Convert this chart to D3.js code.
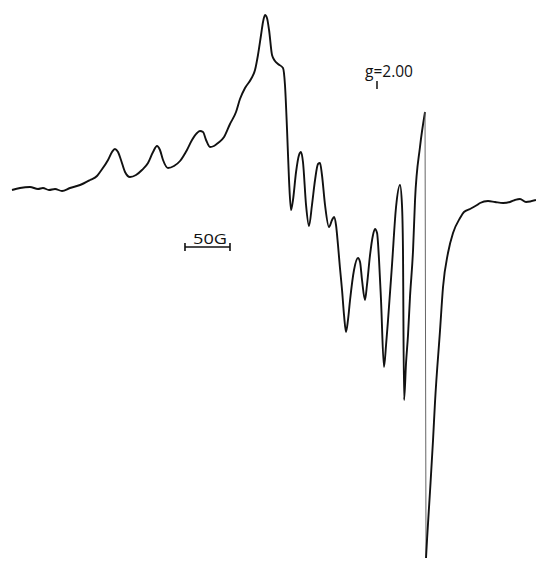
<!DOCTYPE html>
<html>
<head>
<meta charset="utf-8">
<script src="https://cdn.jsdelivr.net/npm/d3@7/dist/d3.min.js"></script>
<style>
  html, body { margin: 0; padding: 0; background: #fff; }
  svg { display: block; }
</style>
</head>
<body>
<svg id="chart" width="536" height="563"></svg>
<script>
// EPR derivative spectrum: magnetic field (G, relative) vs. signal (arbitrary units)
const fieldBefore = [
  0, 8.9, 20, 28.9, 34.4, 41.1, 47.8, 55.6, 64.4, 75.6, 86.7, 94.4, 97.8, 106.7, 111.1, 114.4, 117.8, 121.1,
  125.6, 131.1, 137.8, 144.4, 151.1, 156.7, 161.1, 164.4, 167.8, 173.3, 180, 186.7, 194.4, 200,
  205.6, 208.9, 212.2, 215.6, 220, 224.4, 228.9, 235.6, 242.2, 248.9, 253.3, 258.9, 265.6, 270,
  273.3, 276.7, 278.9, 281.1, 283.3, 285.6, 288.9, 292.2, 295.6, 301.1, 303.3, 305.6, 307.8, 310,
  312.2, 315.6, 318.9, 321.1, 323.3, 326.7, 330, 333.3, 336.7, 340, 342.2, 344.4, 347.8, 352.2,
  355.6, 357.8, 360, 362.2, 364.4, 366.7, 368.9, 371.1, 373.3, 375.6, 380, 384.4, 386.7, 388.9,
  392.2, 394.4, 397.8, 401.1, 403.3, 405.6, 407.8, 410, 413.3, 415.6, 417.8, 422.2, 426.7, 431.1,
  433.3, 434.4, 435.6, 437.8, 440, 442.2, 445.6, 447.8, 453.3, 458.9
];
const signalBefore = [
  0, 2, 3, 1, 2, 0, 1, -1, 2, 5, 10, 14, 18, 30, 38, 41, 38, 30,
  18, 13, 15, 20, 27, 38, 44, 40, 30, 22, 24, 29, 40, 50,
  57, 59, 58, 50, 43, 44, 47, 53, 66, 78, 91, 102, 111, 120,
  135, 155, 168, 175, 172, 160, 135, 129, 126, 122, 105, 60, 10, -20,
  -10, 18, 35, 38, 28, -15, -36, -15, 10, 26, 27, 15, -15, -37,
  -30, -27, -35, -55, -78, -100, -125, -142, -130, -110, -80, -68, -72, -90,
  -110, -95, -65, -45, -39, -43, -70, -110, -177, -155, -130, -75, -17, 5,
  -15, -60, -210, -173, -145, -107, -60, -10, 43, 78
];
// Fast field sweep through the central line
const fieldSweep = [458.9, 460];
const signalSweep = [78, -368];
const fieldAfter = [
  460, 461.1, 464.4, 467.8, 470, 475.6, 478.9, 484.4, 490, 497.8, 502.2, 508.9, 516.7, 520,
  528.9, 536.7, 545.6, 553.3, 558.9, 564.4, 571.1, 582.2
];
const signalAfter = [
  -368, -350, -302, -250, -212, -140, -97, -63, -43, -28, -22, -19, -15, -13,
  -11, -12, -13, -12, -10, -9, -12, -10
];
// Annotations
const gValueLabel = "g=2.00";
const gLabelField = 392.2;
const scaleBarStart = 192.2;
const scaleBarLength = 50;
const scaleBarLabel = "50G";

const svg = d3.select("#chart");
const x = d3.scaleLinear().domain([0, 582.2]).range([12, 536]);
const y = d3.scaleLinear().domain([-380, 190]).range([570, 0]);

const toPts = (f, s) => f.map((v, i) => [v, s[i]]);
const line = d3.line()
  .x(d => x(d[0]))
  .y(d => y(d[1]))
  .curve(d3.curveMonotoneX);

svg.append("path")
  .datum(toPts(fieldBefore, signalBefore))
  .attr("d", line)
  .attr("fill", "none")
  .attr("stroke", "#111")
  .attr("stroke-width", 1.9)
  .attr("stroke-linejoin", "round");

svg.append("path")
  .datum(toPts(fieldSweep, signalSweep))
  .attr("d", d3.line().x(d => x(d[0])).y(d => y(d[1])))
  .attr("fill", "none")
  .attr("stroke", "#666")
  .attr("stroke-width", 1);

svg.append("path")
  .datum(toPts(fieldAfter, signalAfter))
  .attr("d", line)
  .attr("fill", "none")
  .attr("stroke", "#111")
  .attr("stroke-width", 1.9)
  .attr("stroke-linejoin", "round");

// g-value label with its small subscript bar
const gx = x(gLabelField);
svg.append("text")
  .attr("x", gx)
  .attr("y", 77)
  .attr("font-family", "'Open Sans', Lato, sans-serif")
  .attr("font-size", 17)
  .attr("textLength", 48)
  .attr("lengthAdjust", "spacingAndGlyphs")
  .attr("fill", "#111")
  .text(gValueLabel);
svg.append("line")
  .attr("x1", gx + 12).attr("x2", gx + 12)
  .attr("y1", 81).attr("y2", 89)
  .attr("stroke", "#111")
  .attr("stroke-width", 1.5);

// 50 G scale bar
const barY = 247;
const bx0 = x(scaleBarStart), bx1 = x(scaleBarStart + scaleBarLength);
const bar = svg.append("g").attr("stroke", "#111").attr("stroke-width", 1.6);
bar.append("line").attr("x1", bx0).attr("x2", bx1).attr("y1", barY).attr("y2", barY);
bar.append("line").attr("x1", bx0).attr("x2", bx0).attr("y1", barY - 4).attr("y2", barY + 4);
bar.append("line").attr("x1", bx1).attr("x2", bx1).attr("y1", barY - 4).attr("y2", barY + 4);
svg.append("text")
  .attr("x", bx0 + 8)
  .attr("y", barY - 3)
  .attr("font-family", "'Open Sans', Lato, sans-serif")
  .attr("font-size", 15)
  .attr("textLength", 34)
  .attr("lengthAdjust", "spacingAndGlyphs")
  .attr("fill", "#111")
  .text(scaleBarLabel);
</script>
</body>
</html>
